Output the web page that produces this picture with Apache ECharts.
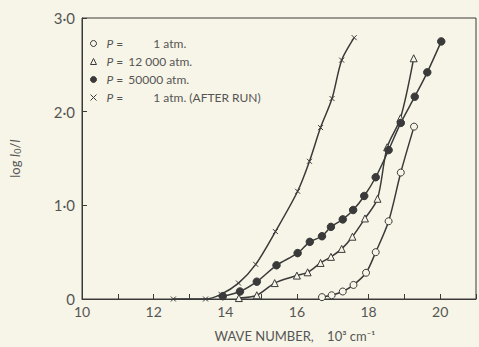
<!DOCTYPE html>
<html>
<head>
<meta charset="utf-8">
<script src="https://cdn.jsdelivr.net/npm/echarts@6/dist/echarts.min.js"></script>
<style>
  html, body { margin: 0; padding: 0; background: #f7f5e7; }
  #chart { width: 479px; height: 347px; }
</style>
</head>
<body>
<div id="chart"></div>
<script>
// wave number (10^3 cm-1), log I0/I
const p1atm = [[16.7, 0.02], [16.97, 0.04], [17.28, 0.08], [17.58, 0.15], [17.93, 0.28],
  [18.2, 0.5], [18.56, 0.83], [18.9, 1.35], [19.27, 1.84]];
const p12000 = [[14.38, 0.01], [14.88, 0.04], [15.38, 0.17], [16.0, 0.25], [16.3, 0.285],
  [16.66, 0.385], [16.95, 0.45], [17.25, 0.535], [17.55, 0.665], [17.9, 0.86],
  [18.25, 1.07], [18.52, 1.62], [18.89, 1.93], [19.26, 2.57]];
const p50000 = [[13.93, 0.03], [14.41, 0.08], [14.88, 0.185], [15.43, 0.36], [16.02, 0.49],
  [16.36, 0.61], [16.7, 0.67], [16.95, 0.77], [17.28, 0.85], [17.57, 0.95], [17.88, 1.1],
  [18.2, 1.3], [18.56, 1.59], [18.9, 1.88], [19.29, 2.16], [19.64, 2.42], [20.03, 2.75]];
const pAfterRun = [[12.55, 0], [13.45, 0], [13.88, 0.05], [14.37, 0.17], [14.85, 0.37],
  [15.4, 0.72], [16.02, 1.15], [16.35, 1.47], [16.66, 1.83], [16.98, 2.14], [17.25, 2.55], [17.6, 2.79]];

const legendNames = ['1 atm', '12000 atm', '50000 atm', '1 atm after run'];
const legendNumbers = ['1', '12 000', '50000', '1'];
const legendTails = ['atm.', 'atm.', 'atm.', 'atm. (AFTER RUN)'];

const ink = '#3a3a3a';
const textColor = '#555';
const paper = '#f7f5e7';
const crossPath = 'path://M0,0L10,10M10,0L0,10';
const nb = '\u00a0';

const chart = echarts.init(document.getElementById('chart'), null, { renderer: 'svg' });

function lineSeries(name, data, symbol, size, fill) {
  return {
    name: name,
    type: 'line',
    data: data,
    smooth: 0.3,
    symbol: symbol,
    symbolSize: size,
    showSymbol: true,
    lineStyle: { color: ink, width: 1.5 },
    itemStyle: { color: fill, borderColor: ink, borderWidth: 1 },
    emphasis: { disabled: true },
    z: 3
  };
}

chart.setOption({
  backgroundColor: paper,
  animation: false,
  textStyle: { fontFamily: 'Lato', color: textColor },
  grid: {
    left: 67, top: 18, width: 413, height: 282,
    show: true, borderColor: ink, borderWidth: 1
  },
  legend: {
    orient: 'vertical',
    left: 85, top: 32,
    itemWidth: 6, itemHeight: 6, itemGap: 5,
    textStyle: {
      fontFamily: 'Lato', fontSize: 12, color: textColor, lineHeight: 13,
      rich: {
        p: { fontStyle: 'italic', fontSize: 12, color: textColor, padding: [0, 0, 0, 5] },
        t: { fontSize: 12, color: textColor },
        one: { fontSize: 12, color: textColor, padding: [0, 0, 0, 27] },
        num: { fontSize: 12, color: textColor, padding: [0, 0, 0, 2] }
      }
    },
    formatter: function (name) {
      const i = legendNames.indexOf(name);
      const numStyle = legendNumbers[i] === '1' ? 'one' : 'num';
      return '{p|P}{t|' + nb + '=' + nb + '}{' + numStyle + '|' + legendNumbers[i] + '}{t|' + nb + legendTails[i] + '}';
    },
    data: [
      { name: legendNames[0], icon: 'circle', itemStyle: { color: paper, borderColor: ink, borderWidth: 1 } },
      { name: legendNames[1], icon: 'triangle', itemStyle: { color: paper, borderColor: ink, borderWidth: 1 } },
      { name: legendNames[2], icon: 'circle', itemStyle: { color: ink, borderColor: ink, borderWidth: 1 } },
      { name: legendNames[3], icon: crossPath, itemStyle: { color: ink, borderColor: ink, borderWidth: 1 } }
    ]
  },
  xAxis: {
    type: 'value',
    min: 10, max: 21, interval: 1,
    name: 'WAVE NUMBER,    10³ cm⁻¹',
    nameLocation: 'middle',
    nameGap: 30,
    nameTextStyle: { fontSize: 13, color: textColor, padding: [0, 0, 0, 32] },
    axisLine: { lineStyle: { color: ink, width: 1 } },
    axisTick: { inside: true, length: 5, lineStyle: { color: ink } },
    axisLabel: {
      fontSize: 14, color: textColor, margin: 5,
      formatter: function (v) { return (v % 2 === 0 && v <= 20) ? String(v) : ''; }
    },
    splitLine: { show: false }
  },
  yAxis: {
    type: 'value',
    min: 0, max: 3, interval: 1,
    name: '{n|log }{i|I}{s|0}{n|/}{i|I}',
    nameLocation: 'middle',
    nameRotate: 90,
    nameGap: 40,
    nameTextStyle: {
      padding: [0, 0, 20, 0],
      rich: {
        n: { fontSize: 13, color: textColor },
        i: { fontSize: 13, fontStyle: 'italic', color: textColor },
        s: { fontSize: 9, color: textColor, padding: [6, 0, 0, 0] }
      }
    },
    axisLine: { lineStyle: { color: ink, width: 1 } },
    axisTick: { inside: true, length: 5, lineStyle: { color: ink } },
    axisLabel: {
      fontSize: 15, color: textColor, margin: 7,
      formatter: function (v) { return v === 0 ? '0' : v.toFixed(1).replace('.', '·'); }
    },
    splitLine: { show: false }
  },
  series: [
    lineSeries(legendNames[0], p1atm, 'circle', 7, paper),
    lineSeries(legendNames[1], p12000, 'triangle', 7, paper),
    lineSeries(legendNames[2], p50000, 'circle', 7.5, ink),
    lineSeries(legendNames[3], pAfterRun, crossPath, 5, ink)
  ]
});
</script>
</body>
</html>
